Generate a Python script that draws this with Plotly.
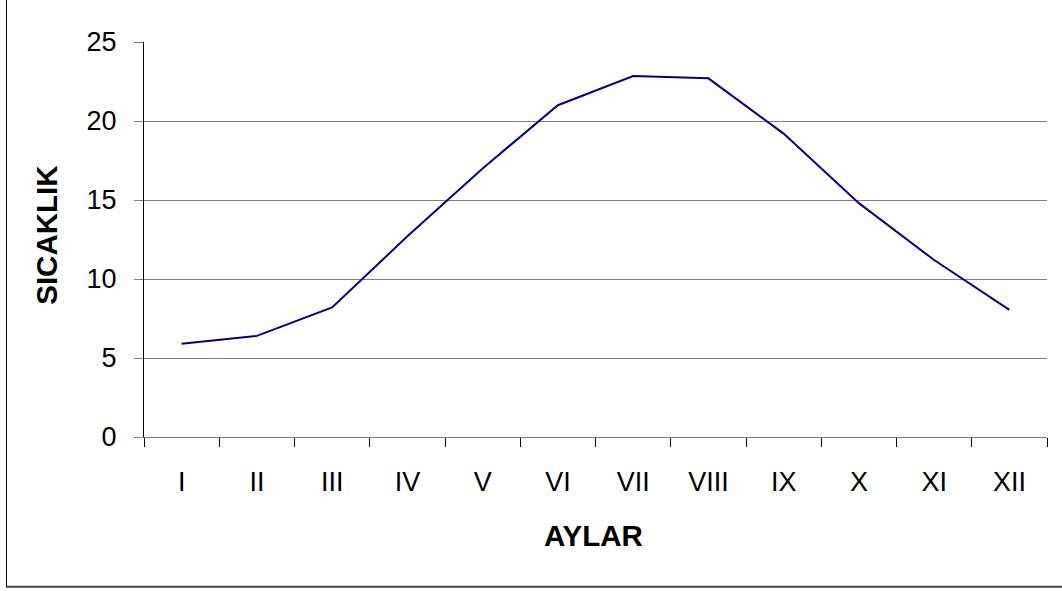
import plotly.graph_objects as go

months = ["I", "II", "III", "IV", "V", "VI", "VII", "VIII", "IX", "X", "XI", "XII"]
temps = [5.9, 6.4, 8.2, 12.7, 17.0, 21.0, 22.85, 22.7, 19.2, 14.8, 11.2, 8.05]
y_ticks = [0, 5, 10, 15, 20, 25]

W, H = 1062, 591
L, R, T, B = 144, 15, 42, 153.5
pw, ph = W - L - R, H - T - B

def px(x):
    return (x - L) / pw

def py(y):
    return (H - B - y) / ph

FONT = "Liberation Sans, Arial, sans-serif"

fig = go.Figure(go.Scatter(
    x=months, y=temps, mode="lines",
    line=dict(color="#000080", width=2),
    hoverinfo="x+y"
))

fig.update_layout(
    width=W, height=H,
    margin=dict(l=L, r=R, t=T, b=B, pad=0),
    paper_bgcolor="white", plot_bgcolor="white",
    showlegend=False,
    font=dict(family=FONT, size=27, color="black"),
    xaxis=dict(
        type="category", tickson="boundaries", range=[-0.5, 11.5],
        ticks="outside", ticklen=9, tickcolor="black", tickwidth=1,
        showline=True, linecolor="#808080", linewidth=1,
        showgrid=False, zeroline=False,
        ticklabelstandoff=21,
        tickfont=dict(family=FONT, size=27),
    ),
    yaxis=dict(
        range=[0, 25], tickvals=y_ticks,
        ticks="outside", ticklen=9, tickcolor="#808080", tickwidth=1,
        showline=True, linecolor="black", linewidth=1,
        showgrid=True, gridcolor="#808080", gridwidth=1,
        zeroline=False,
        ticklabelstandoff=12,
        tickfont=dict(family=FONT, size=27),
    ),
    annotations=[
        dict(text="<b>SICAKLIK</b>", xref="paper", yref="paper",
             x=px(47), y=py(235), showarrow=False, textangle=-90,
             font=dict(family=FONT, size=29.5), xanchor="center", yanchor="middle"),
        dict(text="<b>AYLAR</b>", xref="paper", yref="paper",
             x=px(593), y=py(536), showarrow=False,
             font=dict(family=FONT, size=29.5), xanchor="center", yanchor="middle"),
    ],
    shapes=[
        dict(type="line", xref="paper", yref="paper",
             x0=px(6.5), x1=px(6.5), y0=py(588), y1=py(-5),
             line=dict(color="black", width=1)),
        dict(type="line", xref="paper", yref="paper",
             x0=px(6.5), x1=px(1070), y0=py(587.5), y1=py(587.5),
             line=dict(color="#404040", width=2)),
    ],
)

fig.write_html("out.html", config={"displayModeBar": False},
               post_script="document.body.style.margin='0px';")
